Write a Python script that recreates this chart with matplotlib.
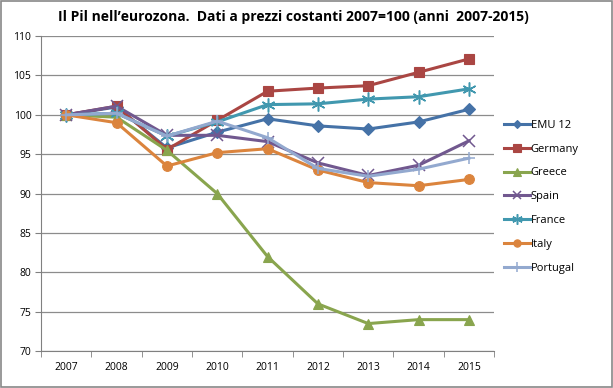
import numpy as np
from matplotlib import pyplot as plt

years = ["2007", "2008", "2009", "2010", "2011", "2012", "2013", "2014", "2015"]
emu12 = [100, 101.0, 95.8, 97.8, 99.5, 98.6, 98.2, 99.1, 100.7]
germany = [100, 101.1, 95.6, 99.3, 103.0, 103.4, 103.7, 105.4, 107.1]
greece = [100, 99.7, 95.5, 90.0, 82.0, 76.0, 73.5, 74.0, 74.0]
spain = [100, 101.1, 97.4, 97.4, 96.6, 93.9, 92.3, 93.6, 96.7]
france = [100, 100.2, 97.3, 99.1, 101.3, 101.4, 102.0, 102.3, 103.3]
italy = [100, 99.0, 93.5, 95.2, 95.7, 93.0, 91.4, 91.0, 91.8]
portugal = [100, 100.2, 97.3, 99.2, 97.1, 93.2, 92.2, 93.1, 94.5]

series = [
    ("EMU 12", emu12, "#4572A7", "D", 6),
    ("Germany", germany, "#AA4643", "s", 7),
    ("Greece", greece, "#89A54E", "^", 7),
    ("Spain", spain, "#71588F", "x", 8),
    ("France", france, "#4198AF", (6, 2, 0), 10),
    ("Italy", italy, "#DB843D", "o", 7),
    ("Portugal", portugal, "#93A9CF", "+", 9),
]

plt.rcParams['font.family'] = ['Open Sans', 'DejaVu Sans']

fig = plt.figure(figsize=(6.13, 3.88), dpi=100)
ax = fig.add_axes([0.067, 0.095, 0.739, 0.812])

x = np.arange(len(years))
for name, vals, color, marker, ms in series:
    thin = marker in ("x", "+") or isinstance(marker, tuple)
    ax.plot(x, vals, color=color, lw=2.2, marker=marker, markersize=ms,
            markeredgewidth=1.1 if thin else 0.8,
            markeredgecolor=color, label=name)

ax.set_ylim(70, 110)
ax.set_yticks(range(70, 111, 5))
ax.set_xlim(-0.5, len(years) - 0.5)
ax.set_xticks(x)
ax.set_xticklabels(years)
ax.set_xticks(np.arange(-0.5, len(years), 1), minor=True)
ax.tick_params(axis='x', which='major', length=0, pad=8, labelsize=7.5)
ax.tick_params(axis='x', which='minor', length=4, color='#808080', direction='out')
ax.tick_params(axis='y', length=4, color='#808080', labelsize=7.5, pad=3)
ax.yaxis.grid(True, color='#8c8c8c', lw=0.9)
ax.set_axisbelow(True)
for side in ('top', 'right'):
    ax.spines[side].set_visible(False)
for side in ('left', 'bottom'):
    ax.spines[side].set_color('#808080')

ax.legend(loc='center left', bbox_to_anchor=(1.0, 0.49), frameon=False,
          fontsize=8, handlelength=2.3, handletextpad=0.1,
          labelspacing=1.15, markerscale=0.75)

fig.suptitle("Il Pil nell\u2019eurozona.  Dati a prezzi costanti 2007=100 (anni  2007-2015)",
             fontsize=10, fontweight='bold', x=0.478, y=0.975)

fig.patches.append(plt.Rectangle((0.002, 0.003), 0.996, 0.994, transform=fig.transFigure,
                                 fill=False, edgecolor='#888888', lw=1.2))

fig.savefig("out.png", dpi=100)
